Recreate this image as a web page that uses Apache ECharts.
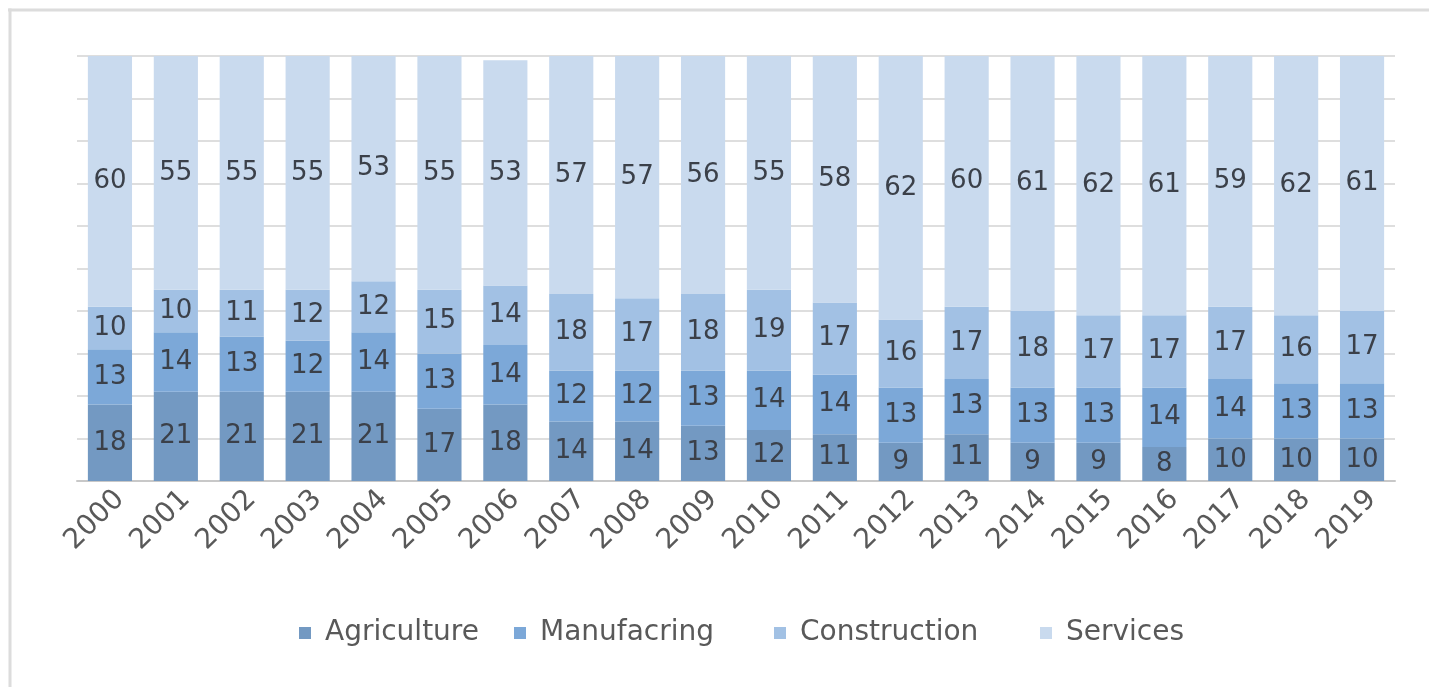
<!DOCTYPE html>
<html>
<head>
<meta charset="utf-8">
<script src="https://cdn.jsdelivr.net/npm/echarts@6/dist/echarts.min.js"></script>
<style>
html,body{margin:0;padding:0;background:#fff;overflow:hidden;}
#chart{width:1429px;height:687px;}
</style>
</head>
<body>
<div id="chart"></div>
<script>
const years = ['2000','2001','2002','2003','2004','2005','2006','2007','2008','2009','2010','2011','2012','2013','2014','2015','2016','2017','2018','2019'];
const agriculture = [18,21,21,21,21,17,18,14,14,13,12,11,9,11,9,9,8,10,10,10];
const manufacturing = [13,14,13,12,14,13,14,12,12,13,14,14,13,13,13,13,14,14,13,13];
const construction = [10,10,11,12,12,15,14,18,17,18,19,17,16,17,18,17,17,17,16,17];
const services = [60,55,55,55,53,55,53,57,57,56,55,58,62,60,61,62,61,59,62,61];
const seriesNames = ['Agriculture','Manufacring','Construction','Services'];
const colors = ['#7399c2','#7ca8d8','#a2c1e4','#c9daee'];
const legendLeft = [294, 509, 769, 1035];

const chart = echarts.init(document.getElementById('chart'));
const font = '"DejaVu Sans", "Open Sans", sans-serif';
const mk = (name, data, color) => ({
  name, type: 'bar', stack: 'total', data,
  barCategoryGap: '33%',
  itemStyle: {color},
  label: {show: true, position: 'inside', color: '#3b4049', fontSize: 26, fontFamily: font},
  emphasis: {disabled: true}
});
chart.setOption({
  animation: false,
  color: colors,
  graphic: [
    {type: 'rect', shape: {x: 8, y: 8.5, width: 1421, height: 3}, style: {fill: '#dcdcdc'}},
    {type: 'rect', shape: {x: 8.5, y: 8.5, width: 3, height: 679}, style: {fill: '#dcdcdc'}}
  ],
  grid: {left: 77, right: 34, top: 56, bottom: 206, containLabel: false},
  legend: seriesNames.map((n, i) => ({
    top: 614, left: legendLeft[i],
    itemWidth: 12, itemHeight: 12,
    icon: 'rect',
    textStyle: {color: '#595959', fontSize: 28, fontFamily: font, padding: [0, 0, 0, 9]},
    data: [n]
  })),
  xAxis: {
    type: 'category', data: years,
    axisTick: {show: false},
    axisLine: {lineStyle: {color: '#c8c8c8', width: 2}},
    axisLabel: {rotate: 45, color: '#595959', fontSize: 28, fontFamily: font, margin: 4, verticalAlign: 'top'}
  },
  yAxis: {
    type: 'value', min: 0, max: 100, interval: 10,
    axisLabel: {show: false}, axisLine: {show: false}, axisTick: {show: false},
    splitLine: {lineStyle: {color: '#dedede', width: 2}}
  },
  series: [
    mk(seriesNames[0], agriculture, colors[0]),
    mk(seriesNames[1], manufacturing, colors[1]),
    mk(seriesNames[2], construction, colors[2]),
    mk(seriesNames[3], services, colors[3])
  ]
});
</script>
</body>
</html>
